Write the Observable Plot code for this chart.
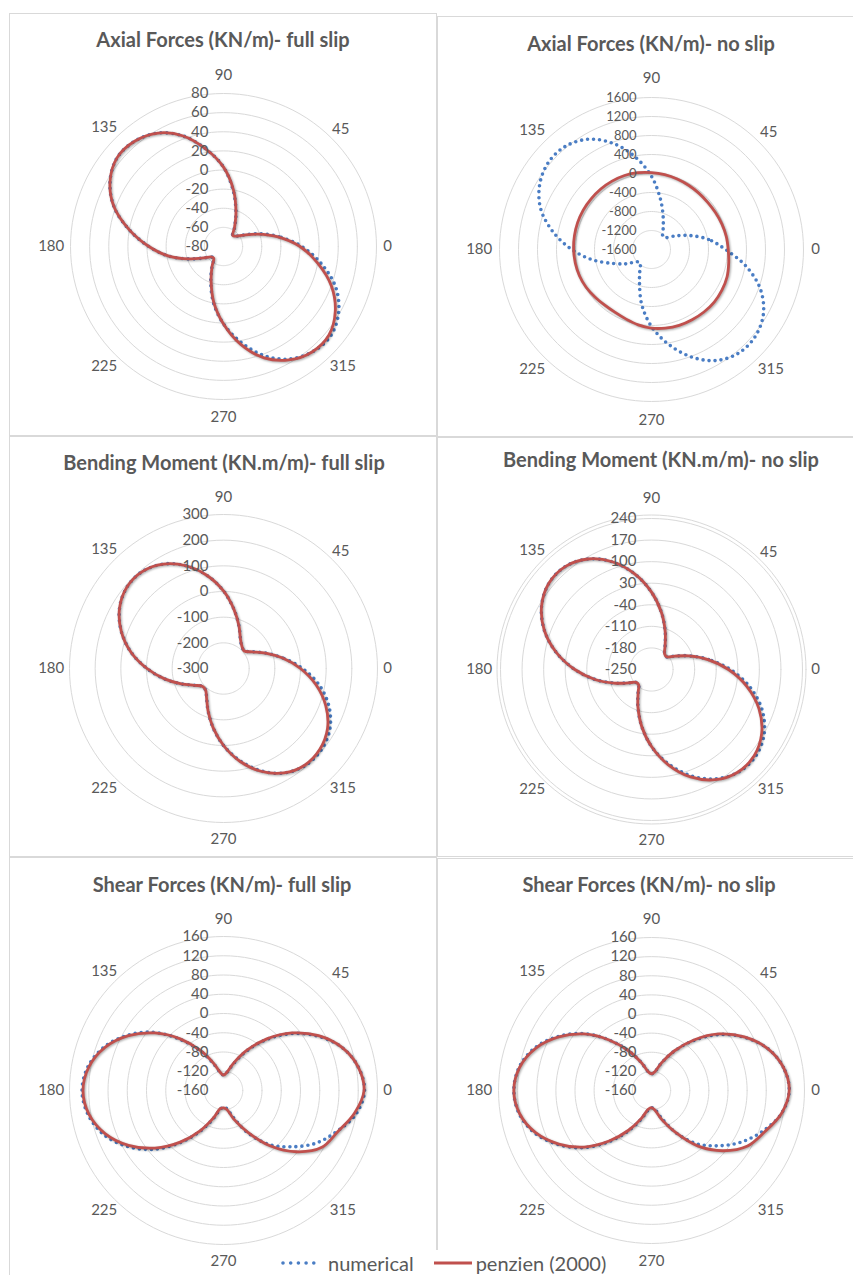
<!DOCTYPE html>
<html><head><meta charset="utf-8">
<script src="https://cdn.jsdelivr.net/npm/d3@7"></script>
<script src="https://cdn.jsdelivr.net/npm/@observablehq/plot@0.6"></script>
<style>
body{margin:0;background:#fff;font-family:Lato,"Open Sans",sans-serif;}
#page{position:relative;width:853px;height:1275px;overflow:hidden;background:#fff;}
.panel{position:absolute;border:1px solid #d9d9d9;box-sizing:border-box;}
.chart{position:absolute;width:400px;height:400px;}
.title{position:absolute;font-weight:bold;color:#595959;font-size:20px;white-space:nowrap;transform:translate(-50%,-50%);line-height:1;}
#legend{position:absolute;left:274px;top:1250px;width:350px;height:26px;background:#fff;display:flex;align-items:center;color:#595959;font-size:20px;}
</style></head><body><div id="page"></div>
<script>
// ---------- data ----------
const angles = [0,10,20,30,40,50,60,70,80,90,100,110,120,130,140,150,160,170,180,190,200,210,220,230,240,250,260,270,280,290,300,310,320,330,340,350];
const angleLabels = [0,45,90,135,180,225,270,315];
const seriesNames = ["numerical", "penzien (2000)"];

const axialFullTitle = "Axial Forces (KN/m)- full slip";
const axialFullTicks = [-80,-60,-40,-20,0,20,40,60,80];
const axialFullNumerical = [2,-21,-41,-56,-63,-65,-57,-42,-21,3,23,43,57,64,65,57,42,20,-2,-22,-42,-56,-63,-64,-56,-41,-20,1,21,41,56,64,66,59,45,24];
const axialFullPenzien   = [0,-22,-42,-56,-63,-65,-57,-42,-20,3,23,43,57,64,65,57,42,20,-2,-22,-42,-56,-63,-64,-56,-42,-21,1,24,44,57,64,64,55,40,20];

const axialNoTitle = "Axial Forces (KN/m)- no slip";
const axialNoTicks = [-1600,-1200,-800,-400,0,400,800,1200,1600];
const axialNoNumerical = [-40,-380,-740,-1030,-1210,-1230,-1110,-880,-520,-60,380,780,1080,1230,1240,1120,880,500,80,-340,-740,-1000,-1200,-1230,-1110,-860,-420,20,420,800,1100,1250,1250,1120,840,420];
const axialNoPenzien   = [15,-2,-25,-45,-55,-50,-38,-20,0,20,42,58,62,62,60,60,56,48,40,30,15,-10,-45,-70,-70,-40,10,55,80,100,108,118,124,112,92,50];

const bendFullTitle = "Bending Moment (KN.m/m)- full slip";
const bendFullTicks = [-300,-200,-100,0,100,200,300];
const bendFullNumerical = [8,-65,-124,-169,-193,-189,-168,-124,-66,2,68,126,170,193,192,168,124,66,-2,-67,-125,-169,-192,-191,-168,-124,-66,0,64,124,170,194,196,178,138,80];
const bendFullPenzien   = [0,-66,-125,-170,-194,-188,-168,-124,-66,2,68,126,170,193,192,168,124,66,-2,-67,-125,-169,-192,-191,-168,-124,-66,0,67,126,170,192,190,168,124,66];

const bendNoTitle = "Bending Moment (KN.m/m)- no slip";
const bendNoTicks = [-250,-180,-110,-40,30,100,170,240];
const bendNoNumerical = [6,-62,-120,-163,-186,-184,-162,-120,-63,1,65,122,164,186,185,162,120,63,-1,-64,-121,-163,-185,-185,-163,-121,-64,0,60,116,160,186,190,172,132,74];
const bendNoPenzien   = [0,-64,-121,-163,-186,-184,-162,-120,-63,1,65,122,164,186,185,162,120,63,-1,-64,-121,-163,-185,-185,-163,-121,-64,0,64,121,163,185,185,163,121,64];

const shearFullTitle = "Shear Forces (KN/m)- full slip";
const shearFullTicks = [-160,-120,-80,-40,0,40,80,120,160];
const shearFullNumerical = [133,124,102,66,24,-22,-66,-102,-122,-128,-122,-102,-66,-22,28,70,104,126,134,126,106,72,30,-18,-62,-98,-120,-126,-122,-100,-58,-14,22,60,90,120];
const shearFullPenzien   = [132,124,102,68,26,-20,-64,-100,-122,-128,-122,-100,-64,-20,26,68,102,124,132,124,102,68,26,-20,-64,-100,-122,-124,-120,-96,-60,-10,38,76,92,116];

const shearNoTitle = "Shear Forces (KN/m)- no slip";
const shearNoTicks = [-160,-120,-80,-40,0,40,80,120,160];
const shearNoNumerical = [128,120,98,63,22,-24,-65,-98,-120,-125,-120,-98,-64,-22,25,66,100,121,128,121,100,66,26,-20,-62,-96,-118,-124,-120,-98,-58,-15,20,56,88,116];
const shearNoPenzien   = [128,120,98,64,24,-22,-64,-98,-120,-125,-120,-98,-64,-22,24,64,98,120,128,120,98,64,24,-22,-64,-98,-120,-124,-118,-94,-58,-8,36,72,92,116];

// ---------- layout ----------
const BLUE = "#4a7dc4", RED = "#c0504d", GRID = "#d9d9d9", TEXT = "#595959";
const panels = [
  {title: axialFullTitle, ticks: axialFullTicks, num: axialFullNumerical, pen: axialFullPenzien, cx:223, cy:246, R:153, box:[9,13,428,423], tx:223, ty:39, tickSize:15},
  {title: axialNoTitle, ticks: axialNoTicks, num: axialNoNumerical, pen: axialNoPenzien, cx:651, cy:249, R:152, box:[437,16,430,421], tx:651, ty:43, tickSize:13},
  {title: bendFullTitle, ticks: bendFullTicks, num: bendFullNumerical, pen: bendFullPenzien, cx:223, cy:668, R:154, box:[9,436,428,421], tx:224, ty:462, tickSize:15},
  {title: bendNoTitle, ticks: bendNoTicks, num: bendNoNumerical, pen: bendNoPenzien, cx:651, cy:669, R:151, box:[437,437,430,420], tx:661, ty:459, tickSize:15, extraRing:true},
  {title: shearFullTitle, ticks: shearFullTicks, num: shearFullNumerical, pen: shearFullPenzien, cx:223, cy:1090, R:154, box:[9,857,428,440], tx:222, ty:884, tickSize:15},
  {title: shearNoTitle, ticks: shearNoTicks, num: shearNoNumerical, pen: shearNoPenzien, cx:651, cy:1090, R:153, box:[437,858,430,440], tx:649, ty:884, tickSize:15}
];

const page = document.getElementById("page");
const rad = a => a * Math.PI / 180;

function drawPanel(p) {
  const box = document.createElement("div");
  box.className = "panel";
  Object.assign(box.style, {left: p.box[0]+"px", top: p.box[1]+"px", width: p.box[2]+"px", height: p.box[3]+"px"});
  page.appendChild(box);

  const [min, max] = d3.extent(p.ticks);
  const rOf = v => (v - min) / (max - min) * p.R;
  const ringPts = p.ticks.filter(t => t !== min).flatMap(t => d3.range(0, 361, 3).map(a => ({t, a, r: rOf(t)})));
  if (p.extraRing) d3.range(0, 361, 3).forEach(a => ringPts.push({t: "outer", a, r: p.R + 3.5}));
  const series = (vals) => angles.map((a, i) => ({a, v: vals[i]}));
  const labelR = a => {
    const w = String(a).length * 8.2;
    return 160 + Math.abs(Math.cos(rad(a))) * w / 2 + (a % 180 === 90 ? 11 : 0);
  };

  const svg = Plot.plot({
    width: 400, height: 400, margin: 0,
    x: {domain: [-200, 200], axis: null},
    y: {domain: [-200, 200], axis: null},
    style: {background: "transparent", overflow: "visible", fontFamily: "Lato, 'Open Sans', sans-serif"},
    marks: [
      Plot.line(ringPts, {x: d => d.r * Math.cos(rad(d.a)), y: d => d.r * Math.sin(rad(d.a)), z: "t", stroke: GRID, strokeWidth: 1}),
      Plot.line(series(p.num), {x: d => rOf(d.v) * Math.cos(rad(d.a)), y: d => rOf(d.v) * Math.sin(rad(d.a)),
        curve: "catmull-rom-closed", stroke: BLUE, strokeWidth: 3.6, strokeDasharray: "0 6", strokeLinecap: "round"}),
      Plot.line(series(p.pen), {x: d => rOf(d.v) * Math.cos(rad(d.a)), y: d => rOf(d.v) * Math.sin(rad(d.a)),
        curve: "catmull-rom-closed", stroke: RED, strokeWidth: 2.8, strokeLinejoin: "round"}),
      Plot.text(p.ticks, {x: () => 0, y: t => rOf(t), text: t => String(t), textAnchor: "end", dx: -15, lineAnchor: "middle", fill: TEXT, fontSize: p.tickSize}),
      Plot.text(angleLabels, {x: a => labelR(a) * Math.cos(rad(a)), y: a => labelR(a) * Math.sin(rad(a)), text: a => String(a), textAnchor: "middle", lineAnchor: "middle", fill: TEXT, fontSize: 15})
    ]
  });
  svg.classList.add("chart");
  svg.style.left = (p.cx - 200) + "px";
  svg.style.top = (p.cy - 200) + "px";
  svg.style.position = "absolute";
  svg.querySelectorAll(`[stroke="${RED}"]`).forEach(n => n.style.filter = "drop-shadow(1.2px 1.6px 1.2px rgba(0,0,0,0.35))");
  page.appendChild(svg);

  const t = document.createElement("div");
  t.className = "title";
  t.textContent = p.title;
  t.style.left = p.tx + "px";
  t.style.top = p.ty + "px";
  page.appendChild(t);
}
panels.forEach(drawPanel);

// ---------- legend ----------
const legend = document.createElement("div");
legend.id = "legend";
legend.innerHTML =
  `<svg width="44" height="12" style="margin-left:6px"><line x1="3" y1="6" x2="40" y2="6" stroke="${BLUE}" stroke-width="3.6" stroke-dasharray="0 7.7" stroke-linecap="round"/></svg>` +
  `<span style="margin-left:4px;margin-right:20px">${seriesNames[0]}</span>` +
  `<svg width="40" height="12"><line x1="0" y1="6" x2="38" y2="6" stroke="${RED}" stroke-width="3"/></svg>` +
  `<span style="margin-left:2px">${seriesNames[1]}</span>`;
page.appendChild(legend);
</script>
</body></html>
